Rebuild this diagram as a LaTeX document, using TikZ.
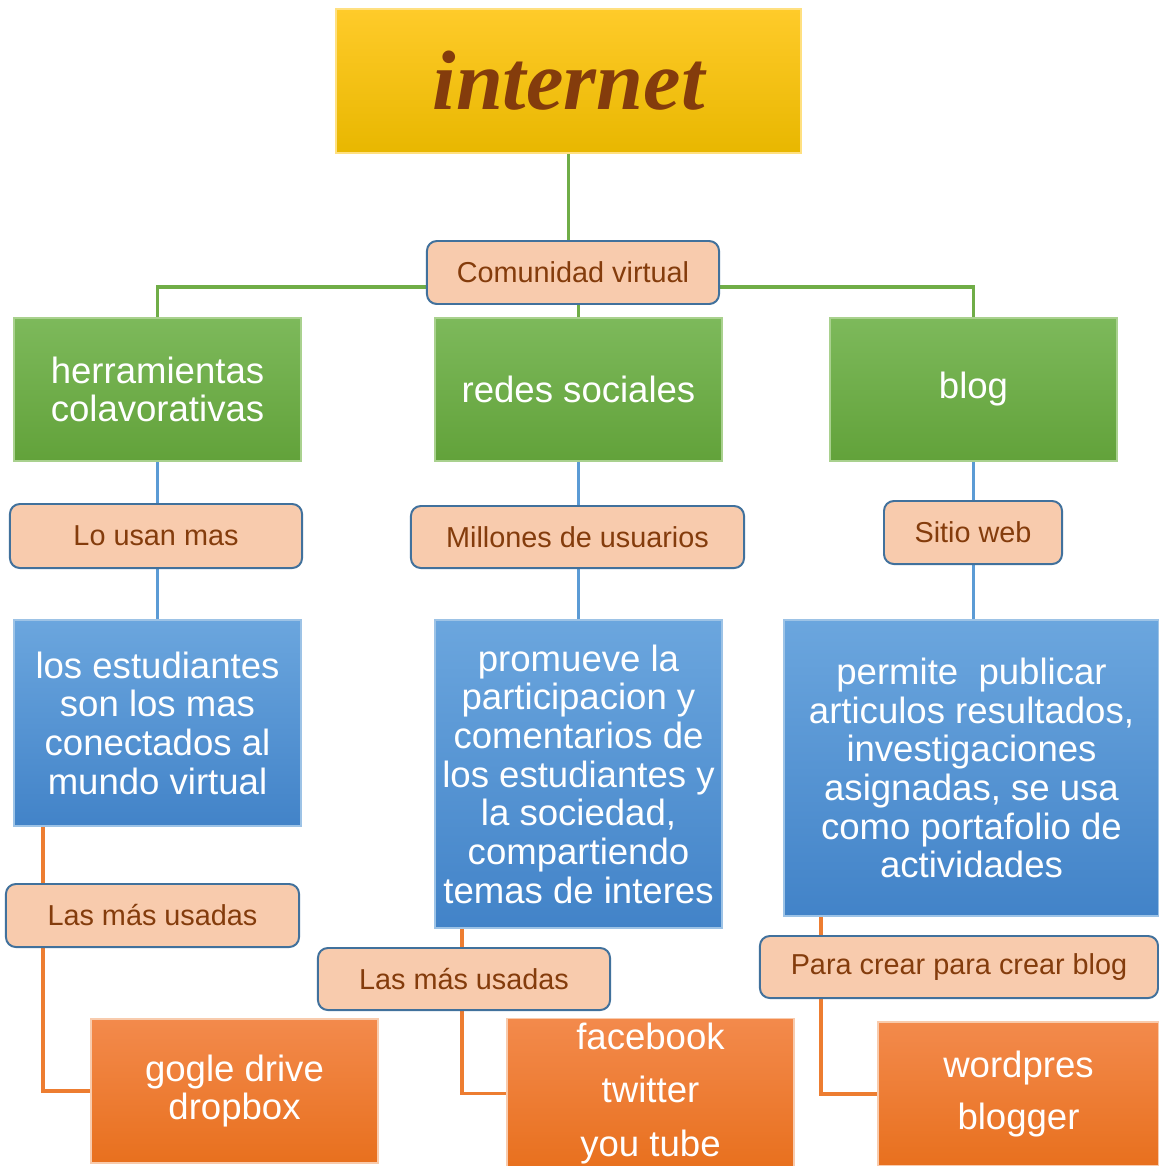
\documentclass[tikz,border=0pt]{standalone}
\usepackage{fontspec}
\setmainfont{Liberation Sans}
\newfontfamily\titlefont{Liberation Serif}
\usetikzlibrary{backgrounds, positioning, shapes}

\definecolor{goldtop}{HTML}{FFCB2A}
\definecolor{goldbot}{HTML}{E8B700}
\definecolor{goldedge}{HTML}{FFE080}
\definecolor{greentop}{HTML}{7DB95B}
\definecolor{greenbot}{HTML}{62A23A}
\definecolor{greenedge}{HTML}{A9D18E}
\definecolor{bluetop}{HTML}{6BA6DE}
\definecolor{bluebot}{HTML}{4283C8}
\definecolor{blueedge}{HTML}{9DC3E6}
\definecolor{orangetop}{HTML}{F38A4C}
\definecolor{orangebot}{HTML}{E8701E}
\definecolor{orangeedge}{HTML}{F8CBAD}
\definecolor{peach}{HTML}{F8CBAD}
\definecolor{peachedge}{HTML}{41719C}
\definecolor{darkbrown}{HTML}{843C0C}
\definecolor{gline}{HTML}{70AD47}
\definecolor{bline}{HTML}{5B9BD5}
\definecolor{oline}{HTML}{ED7D31}

\begin{document}
\begin{tikzpicture}[x=0.025cm, y=-0.025cm,
  box/.style={rectangle, align=center, text=white, line width=1pt,
    font=\fontsize{26}{27.5}\selectfont},
  gold box/.style={box, top color=goldtop, bottom color=goldbot, draw=goldedge},
  green box/.style={box, top color=greentop, bottom color=greenbot, draw=greenedge,
    minimum width=7.175cm, minimum height=3.575cm},
  blue box/.style={box, top color=bluetop, bottom color=bluebot, draw=blueedge},
  orange box/.style={box, top color=orangetop, bottom color=orangebot, draw=orangeedge},
  tag/.style={rectangle, rounded corners=7pt, fill=peach, draw=peachedge, line width=1.4pt,
    text=darkbrown, font=\fontsize{20.5}{24}\selectfont},
  green link/.style={draw=gline, line width=2.2pt},
  blue link/.style={draw=bline, line width=2.2pt},
  orange link/.style={draw=oline, line width=2.2pt}]
  \useasboundingbox (0,0) rectangle (1159,1166);

  \node[gold box, minimum width=11.625cm, minimum height=3.6cm] (internet) at (568.5,81)
    {\titlefont\bfseries\itshape\fontsize{60}{60}\selectfont\color{darkbrown}internet};
  \node[tag, minimum width=7.3cm, minimum height=1.575cm] (comunidad) at (573,272.5) {Comunidad virtual};

  \node[green box] (herramientas) at (157.5,389.5) {herramientas\\colavorativas};
  \node[green box] (redes) at (578.5,389.5) {redes sociales};
  \node[green box] (blog) at (973.5,389.5) {blog};

  \node[tag, minimum width=7.3cm, minimum height=1.6cm] (lousan) at (156,536) {Lo usan mas};
  \node[tag, minimum width=8.325cm, minimum height=1.55cm] (millones) at (577.5,537) {Millones de usuarios};
  \node[tag, minimum width=4.45cm, minimum height=1.575cm] (sitio) at (973,532.5) {Sitio web};

  \node[blue box, minimum width=7.175cm, minimum height=5.15cm] (estudiantes) at (157.5,723)
    {los estudiantes\\son los mas\\conectados al\\mundo virtual};
  \node[blue box, minimum width=7.175cm, minimum height=7.7cm] (promueve) at (578.5,774)
    {promueve la\\participacion y\\comentarios de\\los estudiantes y\\la sociedad,\\compartiendo\\temas de interes};
  \node[blue box, minimum width=9.375cm, minimum height=7.4cm] (permite) at (971.5,768)
    {permite\ \ publicar\\articulos resultados,\\investigaciones\\asignadas, se usa\\como portafolio de\\actividades};

  \node[tag, minimum width=7.325cm, minimum height=1.575cm] (usadasA) at (152.5,915.5) {Las más usadas};
  \node[tag, minimum width=7.3cm, minimum height=1.55cm] (usadasB) at (464,979) {Las más usadas};
  \node[tag, minimum width=9.95cm, minimum height=1.55cm] (paracrear) at (959,967) {Para crear para crear blog};

  \node[orange box, minimum width=7.175cm, minimum height=3.6cm] (gogle) at (234.5,1091)
    {gogle drive\\dropbox};
  \node[orange box, minimum width=7.175cm, minimum height=3.625cm,
    font=\fontsize{26}{38}\selectfont] (facebook) at (650.5,1093.5)
    {facebook\\twitter\\you tube};
  \node[orange box, minimum width=7.025cm, minimum height=3.6cm,
    font=\fontsize{26}{37.5}\selectfont] (wordpres) at (1018.5,1094)
    {wordpres\\blogger};

  \coordinate (bar) at (0,287);
  \coordinate (leftdrop) at (43,826);
  \coordinate (middrop) at (462,928);
  \coordinate (rightdrop) at (821,916);

  \begin{scope}[on background layer]
    % green links
    \draw[green link] (internet.south) -- (internet.south |- comunidad.north);
    \draw[green link] (herramientas.north) -- (herramientas.north |- bar)
      -- (blog.north |- bar) -- (blog.north);
    \draw[green link] (redes.north |- comunidad.south) -- (redes.north);
    % blue links
    \draw[blue link] (herramientas.south) -- (herramientas.south |- estudiantes.north);
    \draw[blue link] (redes.south) -- (redes.south |- promueve.north);
    \draw[blue link] (blog.south) -- (blog.south |- permite.north);
    % orange links
    \draw[orange link] (leftdrop) |- (gogle.west);
    \draw[orange link] (middrop) |- (facebook.west);
    \draw[orange link] (rightdrop) |- (wordpres.west);
  \end{scope}
\end{tikzpicture}
\end{document}
